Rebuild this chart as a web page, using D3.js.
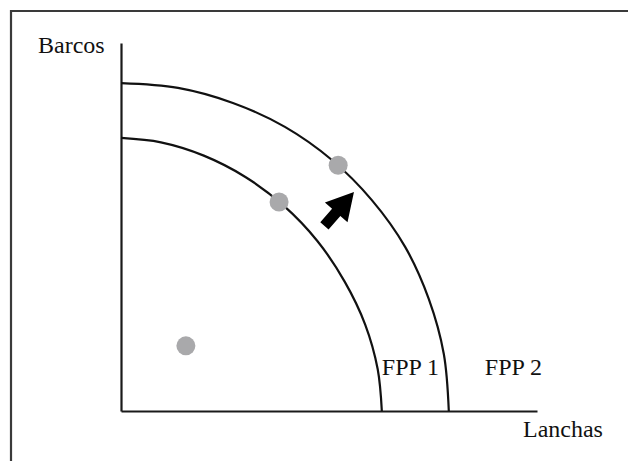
<!DOCTYPE html>
<html>
<head>
<meta charset="utf-8">
<script src="https://cdn.jsdelivr.net/npm/d3@7"></script>
<style>
  html, body { margin: 0; padding: 0; background: #fff; }
  svg { display: block; }
  text { font-family: "Liberation Serif", "DejaVu Serif", serif; font-size: 24px; fill: #111; }
</style>
</head>
<body>
<script>
// ---- data (abstract units: Lanchas on x, Barcos on y) ----
const axisLabels = { x: "Lanchas", y: "Barcos" };
const curveNames = ["FPP 1", "FPP 2"];
const fpp1X = [0, 0.96, 1.99, 2.99, 3.91, 4.72, 5.38, 5.87, 6.17, 6.27];
const fpp1Y = [7.42, 7.30, 6.94, 6.36, 5.58, 4.62, 3.51, 2.35, 1.14, 0];
const fpp2X = [0, 1.37, 2.69, 3.94, 5.07, 6.03, 6.83, 7.40, 7.76, 7.88];
const fpp2Y = [8.91, 8.78, 8.37, 7.72, 6.82, 5.73, 4.46, 3.04, 1.55, 0];
const pointX = [1.56, 3.80, 5.22];
const pointY = [1.77, 5.68, 6.68];
const arrowFrom = [4.89, 5.03];
const arrowTo = [5.60, 5.95];

const W = 628, H = 461;
const svg = d3.select("body").append("svg").attr("width", W).attr("height", H);

// frame (partially cropped border)
svg.append("path")
  .attr("d", `M11,${H + 5} L11,11 L${W + 5},11`)
  .attr("fill", "none").attr("stroke", "#3a3a3a").attr("stroke-width", 2.2);

const x = d3.scaleLinear().domain([0, 10]).range([121, 537]);
const y = d3.scaleLinear().domain([0, 10]).range([411, 43]);

// axes (plain lines, no ticks)
const xAxis = d3.axisBottom(x).tickValues([]).tickSizeOuter(0);
const yAxis = d3.axisLeft(y).tickValues([]).tickSizeOuter(0);
svg.append("g").attr("transform", `translate(0,${y(0)})`).call(xAxis)
  .select(".domain").attr("stroke", "#1a1a1a").attr("stroke-width", 2.2);
svg.append("g").attr("transform", `translate(${x(0)},0)`).call(yAxis)
  .select(".domain").attr("stroke", "#1a1a1a").attr("stroke-width", 2.2);

// axis labels
svg.append("text").attr("x", 38).attr("y", 53).text(axisLabels.y);
svg.append("text").attr("x", 523).attr("y", 437).text(axisLabels.x);

// curves
const line = d3.line().x(d => x(d[0])).y(d => y(d[1])).curve(d3.curveCatmullRom.alpha(0.5));
const curves = [d3.zip(fpp1X, fpp1Y), d3.zip(fpp2X, fpp2Y)];
svg.selectAll("path.fpp").data(curves).enter().append("path")
  .attr("class", "fpp")
  .attr("d", line)
  .attr("fill", "none").attr("stroke", "#111").attr("stroke-width", 2.2);

// curve labels
const lastX = [fpp1X[fpp1X.length - 1], fpp2X[fpp2X.length - 1]];
svg.selectAll("text.lbl").data(curveNames).enter().append("text")
  .attr("class", "lbl")
  .attr("x", (d, i) => x(lastX[i]) + (i === 0 ? 0 : 36))
  .attr("y", 375)
  .text(d => d);

// points
svg.selectAll("circle.pt").data(d3.zip(pointX, pointY)).enter().append("circle")
  .attr("class", "pt")
  .attr("cx", d => x(d[0])).attr("cy", d => y(d[1])).attr("r", 9.5)
  .attr("fill", "#a9a9ab");

// arrow
const ax0 = x(arrowFrom[0]), ay0 = y(arrowFrom[1]);
const ax1 = x(arrowTo[0]), ay1 = y(arrowTo[1]);
const L = Math.hypot(ax1 - ax0, ay1 - ay0);
const ang = Math.atan2(ay1 - ay0, ax1 - ax0) * 180 / Math.PI;
const hb = L - 27;
svg.append("path")
  .attr("d", `M0,-5.5 L${hb},-5.5 L${hb},-15 L${L},0 L${hb},15 L${hb},5.5 L0,5.5 Z`)
  .attr("transform", `translate(${ax0},${ay0}) rotate(${ang})`)
  .attr("fill", "#000");
</script>
</body>
</html>
